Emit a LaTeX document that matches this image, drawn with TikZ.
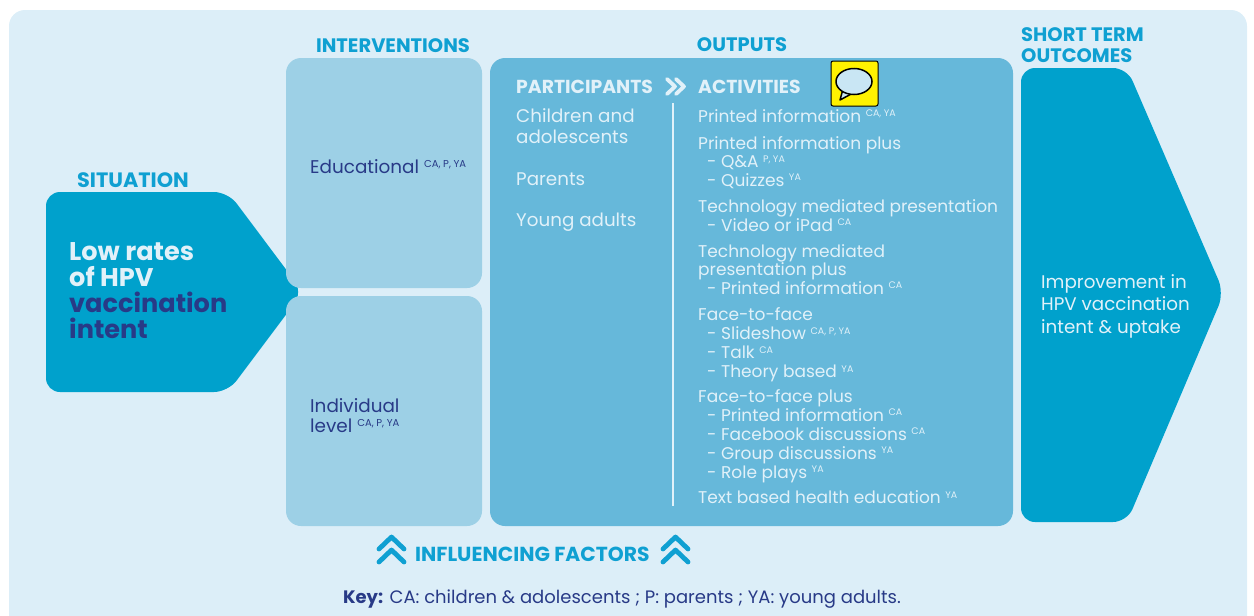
\documentclass[tikz,border=0pt]{standalone}
\usepackage{fontspec}
\setmainfont{Poppins}
\usetikzlibrary{positioning, calc}

\definecolor{paneblue}{HTML}{DCEEF8}
\definecolor{arrowblue}{HTML}{00A1CC}
\definecolor{headblue}{HTML}{0FA0D2}
\definecolor{navy}{HTML}{283A87}
\definecolor{intfill}{HTML}{9DD0E6}
\definecolor{outfill}{HTML}{66B8DA}
\definecolor{paletext}{HTML}{E1F1F9}
\definecolor{notefill}{HTML}{FFF200}
\definecolor{bubble}{HTML}{C9E6F4}

\newcommand{\who}[2][9.5]{\raisebox{0.3em}{\fontsize{#1}{#1}\selectfont #2}}
\newcommand{\subitm}{\hspace*{9pt}- }

\tikzset{
  heading/.style={
    inner sep=0pt,
    anchor=base,
    text=headblue,
    font=\bfseries\fontsize{19.5}{19.5}\selectfont
  },
  panel/.style={rounded corners=15pt},
  bigtext/.style={inner sep=0pt, anchor=base west, font=\bfseries\fontsize{25.6}{25.6}\selectfont},
  navytext/.style={inner sep=0pt, anchor=base west, text=navy, font=\fontsize{18.4}{18.4}\selectfont},
  colhead/.style={inner sep=0pt, anchor=base west, text=paletext, font=\bfseries\fontsize{18.8}{18.8}\selectfont},
  parttext/.style={inner sep=0pt, anchor=base west, text=paletext, font=\fontsize{18.3}{18.3}\selectfont},
  acttext/.style={inner sep=0pt, anchor=base west, text=paletext, font=\fontsize{17}{17}\selectfont},
  twochev/.style={paletext, line width=3.8pt, line cap=round, line join=round},
  upchev/.style={headblue, line width=4.8pt, line cap=round, line join=round}
}

\begin{document}
\begin{tikzpicture}[x=1pt, y=-1pt]
  \useasboundingbox (0,0) rectangle (1254,616);
  \fill[paneblue, rounded corners=16pt] (9,10) rectangle (1247,640);

  % situation
  \fill[arrowblue, rounded corners=14pt] (46,192) -- (228,192) -- (303,292) -- (228,392) -- (46,392) -- cycle;
  \node[heading, font=\bfseries\fontsize{20.8}{20.8}\selectfont] (sitHead) at (133,187) {SITUATION};
  \node[bigtext, text=paletext] (low1) at (69,260) {Low rates};
  \node[bigtext, text=paletext] (low2) at (69,286) {of HPV};
  \node[bigtext, text=navy] (low3) at (69,312) {vaccination};
  \node[bigtext, text=navy] (low4) at (69,338) {intent};

  % interventions
  \fill[intfill, panel] (286,58) rectangle (482,288);
  \fill[intfill, panel] (286,296) rectangle (482,526);
  \node[heading] (intHead) at (393,52) {INTERVENTIONS};
  \node[navytext] (edu) at (310,173) {Educational \who[10]{CA, P, YA}};
  \node[navytext] (ind1) at (310,412) {Individual};
  \node[navytext] (ind2) at (310,432) {level \who[10]{CA, P, YA}};

  % outputs
  \fill[outfill, panel] (490,58) rectangle (1013,526);
  \node[heading] (outHead) at (742,51) {OUTPUTS};
  \node[colhead] (partHead) at (516,93) {PARTICIPANTS};
  \node[colhead] (actHead) at (698,93) {ACTIVITIES};
  \draw[twochev] (667,79) -- (675,86.5) -- (667,94) (676,79) -- (684,86.5) -- (676,94);
  \draw[paletext, line width=2pt] (673,103) -- (673,506);

  \foreach \y/\t [count=\i] in {122/Children and, 143/adolescents, 185/Parents, 226/Young adults}
    \node[parttext] (part\i) at (516,\y) {\t};

  \foreach \y/\t [count=\i] in {
      122/{Printed information \who{CA, YA}},
      149/{Printed information plus},
      167.5/{\subitm Q\&A \who{P, YA}},
      186/{\subitm Quizzes \who{YA}},
      212.5/{Technology mediated presentation},
      231/{\subitm Video or iPad \who{CA}},
      257/{Technology mediated},
      275/{presentation plus},
      294/{\subitm Printed information \who{CA}},
      320.5/{Face-to-face},
      339.5/{\subitm Slideshow \who{CA, P, YA}},
      358.5/{\subitm Talk \who{CA}},
      377.5/{\subitm Theory based \who{YA}},
      402.5/{Face-to-face plus},
      421/{\subitm Printed information \who{CA}},
      440/{\subitm Facebook discussions \who{CA}},
      459/{\subitm Group discussions \who{YA}},
      478/{\subitm Role plays \who{YA}},
      503.5/{Text based health education \who{YA}}}
    \node[acttext] (act\i) at (698,\y) {\t};

  % comment mark
  \draw[fill=notefill, line width=1pt, rounded corners=2pt] (831,61) rectangle (878,106);
  \draw[fill=bubble, line width=1.5pt, line join=round] (843,89) -- (840,100) -- (853,93);
  \draw[fill=bubble, line width=1.5pt] (854,81.5) ellipse [x radius=18, y radius=13];

  % short term outcomes
  \fill[arrowblue, rounded corners=14pt] (1021,68) -- (1127,68) -- (1224,293) -- (1127,522) -- (1021,522) -- cycle;
  \node[heading, anchor=base west] (stoHead1) at (1021,41) {SHORT TERM};
  \node[heading, anchor=base west] (stoHead2) at (1021,62) {OUTCOMES};
  \node[parttext] (impr1) at (1041,288) {Improvement in};
  \node[parttext] (impr2) at (1041,310) {HPV vaccination};
  \node[parttext] (impr3) at (1041,333) {intent \& uptake};

  % influencing factors and key
  \node[heading, anchor=base west, font=\bfseries\fontsize{20.3}{20.3}\selectfont] (inflText) at (415,561) {INFLUENCING FACTORS};
  \draw[upchev] (379,549) -- (391.5,537) -- (404,549) (379,562) -- (391.5,550) -- (404,562);
  \draw[upchev] (663,549) -- (675.5,537) -- (688,549) (663,562) -- (675.5,550) -- (688,562);
  \node[navytext, anchor=base, font=\fontsize{18}{18}\selectfont] (keyLine) at (622,603)
    {\textbf{Key:} CA: children \& adolescents ; P: parents ; YA: young adults.};
\end{tikzpicture}
\end{document}
